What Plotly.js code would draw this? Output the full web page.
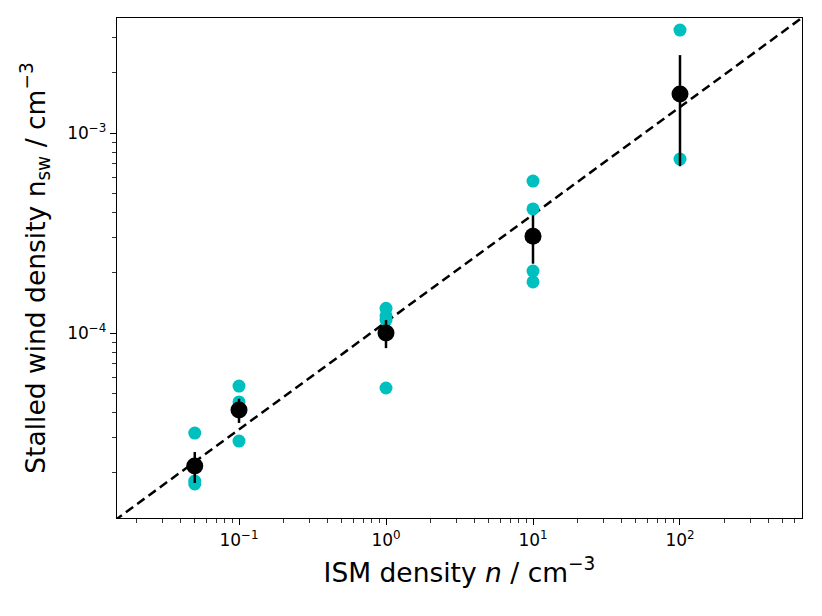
<!DOCTYPE html>
<html>
<head>
<meta charset="utf-8">
<script src="https://cdn.plot.ly/plotly-3.0.1.min.js"></script>
<style>
  body { margin: 0; background: #fff; }
  #chart { width: 822px; height: 616px; }
</style>
</head>
<body>
<div id="chart"></div>
<script>
// individual runs (cyan)
var runX = [0.05, 0.05, 0.05, 0.1, 0.1, 0.1, 1, 1, 1, 1, 10, 10, 10, 10, 100, 100];
var runY = [3.16e-5, 1.82e-5, 1.76e-5, 5.43e-5, 4.52e-5, 2.88e-5,
            1.33e-4, 1.22e-4, 1.16e-4, 5.31e-5,
            5.75e-4, 4.17e-4, 2.04e-4, 1.80e-4, 3.27e-3, 7.41e-4];

// averages with error bars (black)
var meanX = [0.05, 0.1, 1, 10, 100];
var meanY = [2.16e-5, 4.12e-5, 1.0e-4, 3.05e-4, 1.567e-3];
var meanErr = [0.38e-5, 0.57e-5, 1.6e-5, 0.83e-4, 0.885e-3];

// dashed fit line end points
var fitX = [0.01, 1000];
var fitY = [9.55e-6, 4.65e-3];

var xTickVals = [0.1, 1, 10, 100];
var xTickText = ['10<sup>\u22121</sup>', '10<sup>0</sup>', '10<sup>1</sup>', '10<sup>2</sup>'];
var yTickVals = [1e-4, 1e-3];
var yTickText = ['10<sup>\u22124</sup>', '10<sup>\u22123</sup>'];

// minor tick positions (2..9 in each decade)
function minorTicks(fromExp, toExp) {
  var out = [];
  for (var e = fromExp; e <= toExp; e++) {
    for (var m = 2; m <= 9; m++) out.push(m * Math.pow(10, e));
  }
  return out;
}

var fitTrace = {
  x: fitX, y: fitY,
  mode: 'lines',
  line: {color: 'black', width: 2.5, dash: '9px,5px'},
  hoverinfo: 'skip'
};

var runTrace = {
  x: runX, y: runY,
  mode: 'markers',
  marker: {color: '#00bfbf', size: 13}
};

var meanTrace = {
  x: meanX, y: meanY,
  mode: 'markers',
  marker: {color: 'black', size: 17},
  error_y: {type: 'data', array: meanErr, visible: true, color: 'black', thickness: 2.5, width: 0}
};

var axisCommon = {
  type: 'log',
  showgrid: false,
  zeroline: false,
  showline: true,
  linecolor: 'black',
  linewidth: 1.3,
  mirror: true,
  ticks: 'outside',
  ticklen: 6,
  tickwidth: 1,
  tickcolor: 'black',
  tickfont: {family: 'DejaVu Sans', size: 17, color: 'black'}
};

var layout = {
  width: 822,
  height: 616,
  margin: {l: 117, r: 20, t: 18, b: 98},
  showlegend: false,
  paper_bgcolor: 'white',
  plot_bgcolor: 'white',
  font: {family: 'DejaVu Sans', color: 'black'},
  xaxis: Object.assign({}, axisCommon, {
    range: [-1.83, 2.83],
    tickmode: 'array',
    tickvals: xTickVals,
    ticktext: xTickText,
    minor: {tickmode: 'array', tickvals: minorTicks(-2, 2), ticks: 'outside', ticklen: 3.5, tickwidth: 0.8, tickcolor: 'black', showgrid: false},
    title: {text: 'ISM density <i>n</i> / cm<sup>\u22123</sup>', font: {size: 26.5}, standoff: 14}
  }),
  yaxis: Object.assign({}, axisCommon, {
    range: [-4.925, -2.425],
    tickmode: 'array',
    tickvals: yTickVals,
    ticktext: yTickText,
    minor: {tickmode: 'array', tickvals: minorTicks(-5, -3), ticks: 'outside', ticklen: 3.5, tickwidth: 0.8, tickcolor: 'black', showgrid: false},
    title: {text: 'Stalled wind density n<sub>sw</sub> / cm<sup>\u22123</sup>', font: {size: 26.5}, standoff: 14}
  })
};

Plotly.newPlot('chart', [fitTrace, runTrace, meanTrace], layout, {displayModeBar: false, staticPlot: true});
</script>
</body>
</html>
